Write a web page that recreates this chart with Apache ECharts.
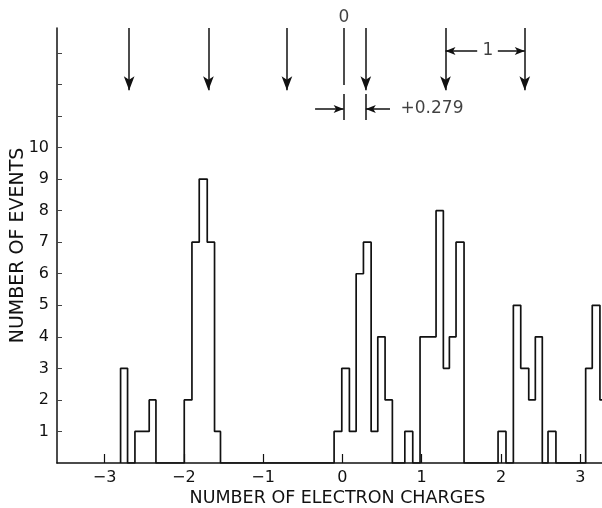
<!DOCTYPE html>
<html>
<head>
<meta charset="utf-8">
<script src="https://cdn.jsdelivr.net/npm/echarts@6/dist/echarts.min.js"></script>
<style>
html,body{margin:0;padding:0;background:#fff;}
#main{width:602px;height:508px;}
</style>
</head>
<body>
<div id="main"></div>
<script>
// histogram bins, in electron charges, and number of events in each
var binStart = [-2.798, -2.617, -2.527, -2.437,
	-1.995, -1.898, -1.806, -1.705, -1.613,
	-0.105, -0.008, 0.088, 0.173, 0.265, 0.362, 0.446, 0.538,
	0.787,
	0.979, 1.080, 1.181, 1.273, 1.349, 1.433,
	1.963,
	2.156, 2.249, 2.350, 2.433,
	2.593,
	3.068, 3.151, 3.248];
var binEnd = [-2.710, -2.527, -2.437, -2.352,
	-1.898, -1.806, -1.705, -1.613, -1.538,
	-0.008, 0.088, 0.173, 0.265, 0.362, 0.446, 0.538, 0.630,
	0.887,
	1.080, 1.181, 1.273, 1.349, 1.433, 1.534,
	2.063,
	2.249, 2.350, 2.433, 2.521,
	2.693,
	3.151, 3.248, 3.337];
var counts = [3, 1, 1, 2,
	2, 7, 9, 7, 1,
	1, 3, 1, 6, 7, 1, 4, 2,
	1,
	4, 4, 8, 3, 4, 7,
	1,
	5, 3, 2, 4,
	1,
	3, 5, 2];

// axis ticks
var xTicks = [-3, -2, -1, 0, 1, 2, 3];
var xTickLabels = ['\u22123', '\u22122', '\u22121', '0', '1', '2', '3'];
var yTicks = [1, 2, 3, 4, 5, 6, 7, 8, 9, 10, 11, 12, 13];
var yTickLabels = [1, 2, 3, 4, 5, 6, 7, 8, 9, 10];

// arrows above the histogram (zero shifted by +0.279)
var arrowPos = [-2.69, -1.69, -0.70, 0.295, 1.30, 2.30, 3.28];
var zeroPos = 0.015;

var FONT = 'DejaVu Sans';
var INK = '#111';

//outline of the histogram, one polyline along the bins
function histOutline() {
	var pts = [];
	var last = null;
	for (var i = 0; i < counts.length; i++) {
		if (last === null || Math.abs(binStart[i] - last) > 0.001) {
			if (last !== null) pts.push([last, 0]);
			pts.push([binStart[i], 0]);
		}
		pts.push([binStart[i], counts[i]]);
		pts.push([binEnd[i], counts[i]]);
		last = binEnd[i];
	}
	pts.push([last, 0]);
	return pts;
}

function vline(x, y0, y1, arrow) {
	return [
		{coord: [x, y0], symbol: 'none'},
		{coord: [x, y1], symbol: arrow ? 'arrow' : 'none', symbolSize: [8, 14]}
	];
}
function hline(x0, x1, y) {
	return [
		{coord: [x0, y], symbol: 'none'},
		{coord: [x1, y], symbol: 'arrow', symbolSize: [6, 10]}
	];
}

var marks = [];
for (var i = 0; i < arrowPos.length; i++) {
	marks.push(vline(arrowPos[i], 13.79, 11.82, true));
}
marks.push(vline(zeroPos, 13.79, 11.98, false));
// +0.279 dimension
marks.push(vline(zeroPos, 11.70, 10.87, false));
marks.push(vline(0.295, 11.70, 10.87, false));
marks.push(hline(-0.345, zeroPos, 11.22));
marks.push(hline(0.60, 0.295, 11.22));
// spacing of 1
marks.push(hline(1.70, 1.30, 13.06));
marks.push(hline(1.96, 2.30, 13.06));

var notes = [
	{name: '0', value: [0.02, 14.12]},
	{name: '1', value: [1.835, 13.06]},
	{name: '+0.279', value: [1.13, 11.22]}
];

var myChart = echarts.init(document.getElementById('main'), null, {renderer: 'canvas'});

var option = {
	backgroundColor: '#fff',
	animation: false,
	grid: {left: 57, right: 0, top: 28, bottom: 45, outerBoundsMode: 'none'},
	xAxis: {
		type: 'value',
		min: -3.6,
		max: 3.274,
		axisLine: {onZero: false, lineStyle: {color: INK, width: 1.5}},
		axisTick: {inside: true, length: 9, customValues: xTicks, lineStyle: {color: INK, width: 1.2}},
		axisLabel: {
			customValues: xTicks,
			margin: 7,
			fontSize: 16,
			fontFamily: FONT,
			color: INK,
			formatter: function (v) {
				return xTickLabels[xTicks.indexOf(v)];
			}
		},
		splitLine: {show: false},
		name: 'NUMBER OF ELECTRON CHARGES',
		nameLocation: 'middle',
		nameGap: 26,
		nameMoveOverlap: false,
		nameTextStyle: {fontSize: 17.5, fontFamily: FONT, color: INK, padding: [0, 0, 0, 16]}
	},
	yAxis: {
		type: 'value',
		min: 0,
		max: 13.79,
		axisLine: {show: true, onZero: false, lineStyle: {color: INK, width: 1.5}},
		axisTick: {show: true, inside: true, length: 5, customValues: yTicks, lineStyle: {color: '#444', width: 1}},
		axisLabel: {
			customValues: yTickLabels,
			margin: 8,
			fontSize: 16,
			fontFamily: FONT,
			color: INK
		},
		splitLine: {show: false},
		name: 'NUMBER OF EVENTS',
		nameLocation: 'middle',
		nameRotate: 90,
		nameGap: 29,
		nameMoveOverlap: false,
		nameTextStyle: {fontSize: 19, fontFamily: FONT, color: INK, padding: [0, 0, 0, 0]}
	},
	series: [{
		name: 'events',
		type: 'line',
		data: histOutline(),
		showSymbol: false,
		symbol: 'none',
		clip: true,
		lineStyle: {color: INK, width: 1.7},
		markLine: {
			silent: true,
			animation: false,
			label: {show: false},
			lineStyle: {color: INK, width: 1.5, type: 'solid'},
			emphasis: {disabled: true},
			data: marks
		}
	}, {
		name: 'notes',
		type: 'scatter',
		data: notes,
		symbolSize: 0,
		clip: false,
		silent: true,
		label: {
			show: true,
			position: 'inside',
			fontSize: 17,
			fontFamily: FONT,
			color: INK,
			formatter: function (p) { return p.name; }
		}
	}]
};

myChart.setOption(option, true);
</script>
</body>
</html>
